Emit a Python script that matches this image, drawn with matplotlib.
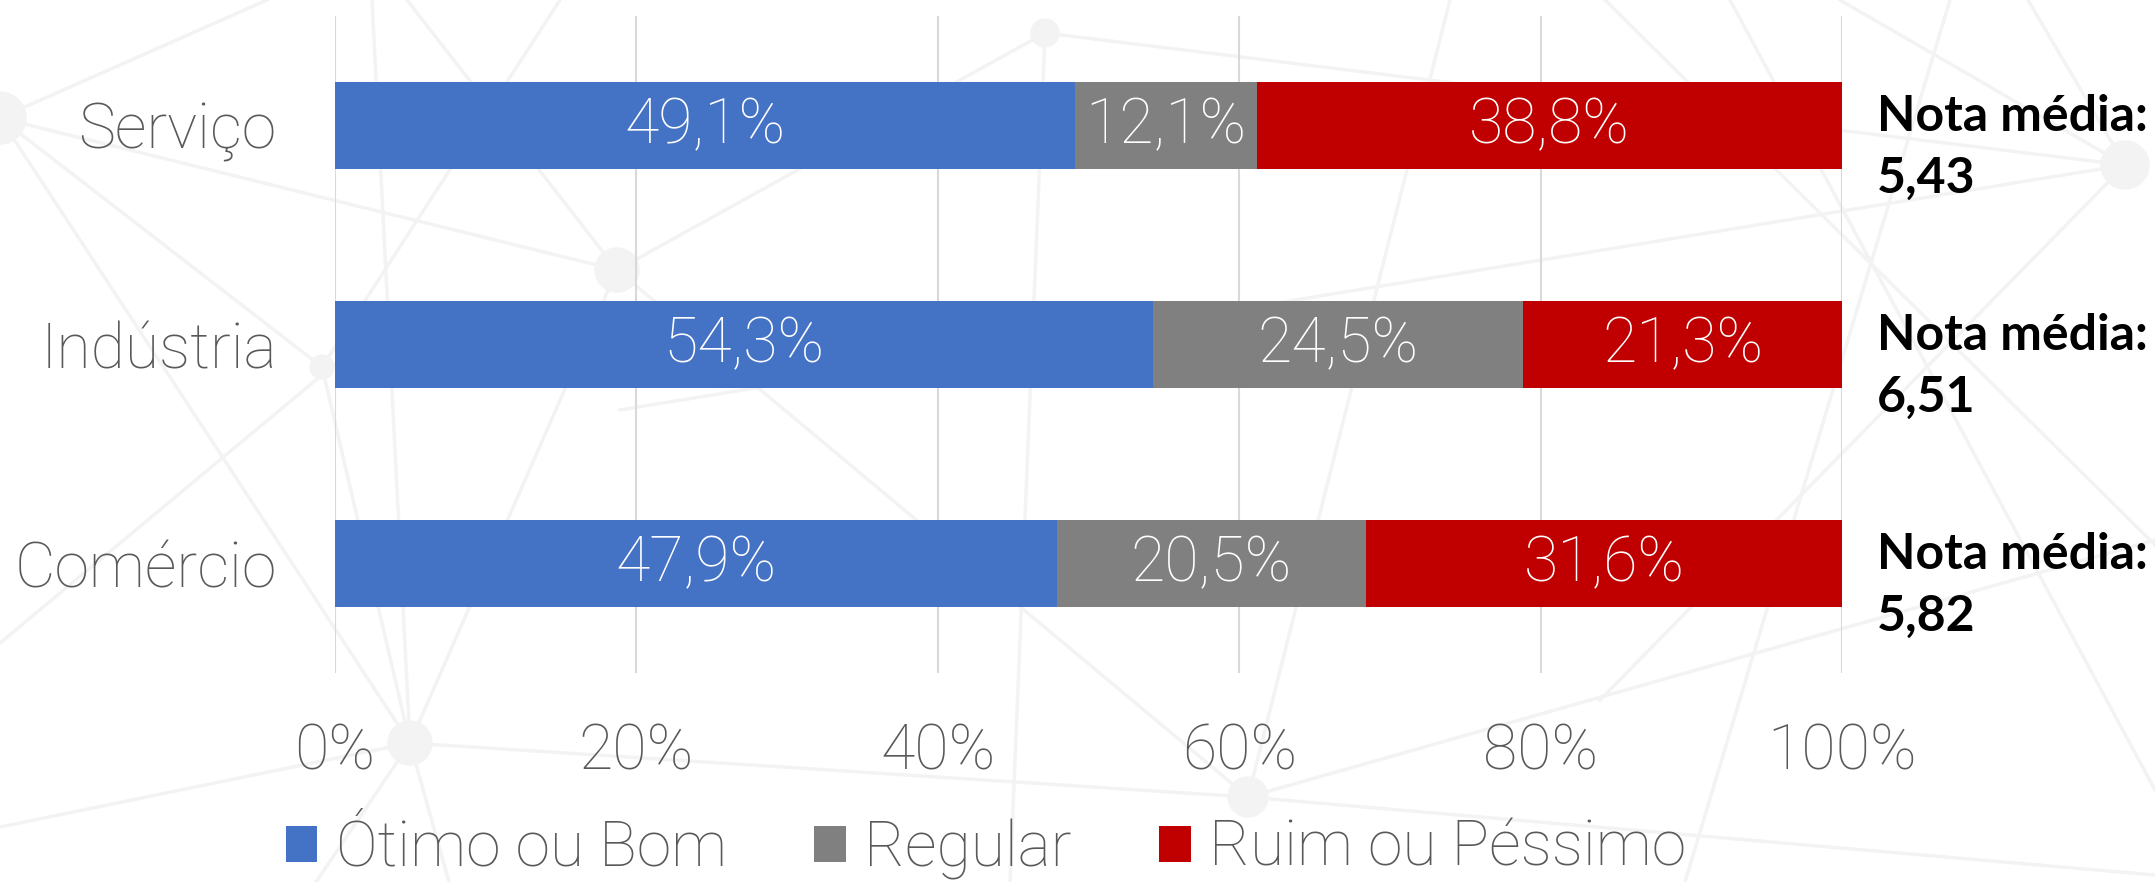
import matplotlib
matplotlib.use("Agg")
import matplotlib.pyplot as plt
from matplotlib.lines import Line2D
from matplotlib.patches import Ellipse

# dados do gráfico
categorias = ["Serviço", "Indústria", "Comércio"]
otimo_bom = [49.1, 54.3, 47.9]
regular = [12.1, 24.5, 20.5]
ruim_pessimo = [38.8, 21.3, 31.6]
nota_media = ["5,43", "6,51", "5,82"]
series_nomes = ["Ótimo ou Bom", "Regular", "Ruim ou Péssimo"]
cores = ["#4472C4", "#808080", "#C00000"]

W, H = 2155, 882
fonte = ["Roboto", "DejaVu Sans"]
fonte_nota = ["Lato", "DejaVu Sans"]
peso = "light"
cinza_texto = "#595959"
cor_rede = "#F3F3F3"

fig = plt.figure(figsize=(W / 100, H / 100), dpi=100)
fig.patch.set_facecolor("white")

# rede decorativa do fundo (pixels da figura, y medido a partir do topo)
nos = {
    "A": (0, 118, 26), "B": (617, 270, 22), "C": (1045, 33, 14),
    "D": (2125, 165, 24), "E": (410, 743, 22), "F": (322, 367, 12),
    "G": (1248, 797, 20),
}
def p(k):
    return nos[k][:2] if isinstance(k, str) else k

arestas = [
    ("A", "B"), ("A", (267, 0)), ("A", "E"), ("A", "F"), ((0, 643), (400, 310)),
    ((372, 0), "E"), ((407, 0), "B"), ("B", "C"), ("C", "D"), ("C", (1010, 882)),
    ("E", (0, 827)), ("E", "G"), ("G", (2155, 875)), ("E", (449, 882)),
    ("E", (316, 882)), ("E", "B"), ("B", "G"), ("G", (2155, 540)),
    ((1730, 0), (2155, 790)), ((1950, 0), (1685, 882)), ("D", (1840, 0)),
    ("D", (2028, 0)), ("D", (620, 410)), ("D", (1600, 700)), ((1450, 0), "G"),
    ((1605, 0), (2155, 545)), ("F", (560, 0)), ("F", "E"),
]
for a, b in arestas:
    (x1, y1), (x2, y2) = p(a), p(b)
    fig.add_artist(Line2D([x1 / W, x2 / W], [1 - y1 / H, 1 - y2 / H],
                          transform=fig.transFigure, color=cor_rede, lw=2.5, zorder=0))
for x, y, r in nos.values():
    fig.add_artist(Ellipse((x / W, 1 - y / H), 2 * r / W, 2 * r / H,
                           transform=fig.transFigure, color=cor_rede, zorder=0))

ax = fig.add_axes([335 / W, 1 - 673 / H, (1842 - 335) / W, (673 - 16) / H])
ax.set_zorder(1)
ax.patch.set_alpha(0)

y = range(len(categorias))
esquerda = [0.0] * len(categorias)
for nome, valores, cor in zip(series_nomes, [otimo_bom, regular, ruim_pessimo], cores):
    ax.barh(y, valores, left=esquerda, height=0.4, color=cor, label=nome, zorder=2)
    for i, v in enumerate(valores):
        ax.text(esquerda[i] + v / 2, i, f"{v:.1f}".replace(".", ",") + "%",
                ha="center", va="center", color="white", fontsize=45,
                family=fonte, fontweight=peso, zorder=3)
    esquerda = [e + v for e, v in zip(esquerda, valores)]

for i, n in enumerate(nota_media):
    ax.text(102.3, i + 0.1, "Nota média:\n" + n, ha="left", va="center",
            fontsize=36, fontweight="bold", family=fonte_nota, color="black",
            linespacing=1.45, clip_on=False)

ax.set_xlim(0, 100)
ax.set_ylim(2.5, -0.5)
ax.set_xticks(range(0, 101, 20))
ax.set_xticklabels([f"{v}%" for v in range(0, 101, 20)], family=fonte, fontweight=peso)
ax.set_yticks(list(y))
ax.set_yticklabels(categorias, family=fonte, fontweight=peso)
ax.tick_params(axis="x", length=0, pad=35, labelsize=45, labelcolor=cinza_texto)
ax.tick_params(axis="y", length=0, pad=42, labelsize=45, labelcolor=cinza_texto)
ax.set_axisbelow(True)
ax.xaxis.grid(True, color="#D9D9D9", lw=1.5)
for s in ax.spines.values():
    s.set_visible(False)

h, l = ax.get_legend_handles_labels()
fig.legend(h, l, loc="center", bbox_to_anchor=(986 / W, 1 - 849 / H), ncol=3,
           frameon=False, prop={"family": fonte, "size": 45, "weight": peso},
           handlelength=0.5, handleheight=0.5, handletextpad=0.3,
           columnspacing=1.4, labelcolor=cinza_texto)

fig.savefig("out.png", dpi=100)
